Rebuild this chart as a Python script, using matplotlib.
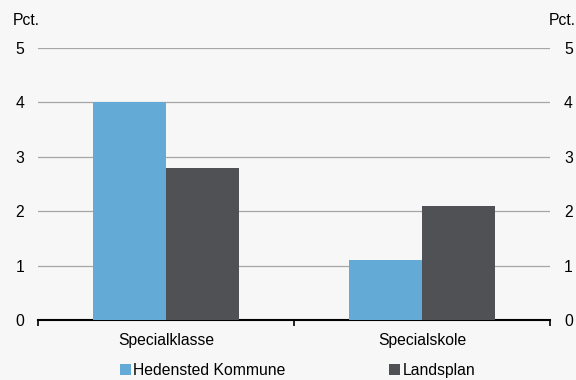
import matplotlib.pyplot as plt
import numpy as np

plt.rcParams['font.family'] = ['Liberation Sans', 'DejaVu Sans']

categories = ['Specialklasse', 'Specialskole']
series_names = ['Hedensted Kommune', 'Landsplan']
hedensted = [4.0, 1.1]
landsplan = [2.8, 2.1]
colors = ['#64aad6', '#505155']
bg = '#f7f7f7'
fs = 11.3

fig = plt.figure(figsize=(5.76, 3.8), dpi=100, facecolor=bg)
ax = fig.add_axes([38 / 576, 60 / 380, 512 / 576, 272 / 380], facecolor=bg)

x = np.arange(len(categories))
w = 0.286
ax.bar(x - w / 2, hedensted, w, color=colors[0], label=series_names[0], zorder=3)
ax.bar(x + w / 2, landsplan, w, color=colors[1], label=series_names[1], zorder=3)

ax.set_xlim(-0.5, 1.5)
ax.set_ylim(0, 5)
ax.set_yticks(range(6))
ax.grid(axis='y', color='#a6a6a6', linewidth=0.9, zorder=0)
for s in ['top', 'left', 'right']:
    ax.spines[s].set_visible(False)
ax.spines['bottom'].set_linewidth(1.5)
ax.spines['bottom'].set_color('black')

ax.set_xticks([-0.5, 0.5, 1.5], minor=True)
ax.set_xticks(x)
ax.set_xticklabels(categories, fontsize=fs)
ax.tick_params(axis='x', which='major', length=0, pad=9)
ax.tick_params(axis='x', which='minor', length=4, width=1.2, direction='out')
ax.tick_params(axis='y', length=0, labelsize=fs, pad=10, labelright=True, right=False)

ax.text(-25 / 512, 1.075, 'Pct.', transform=ax.transAxes, fontsize=fs, ha='left', va='bottom')
ax.text(1.0 + 26 / 512, 1.075, 'Pct.', transform=ax.transAxes, fontsize=fs, ha='right', va='bottom')

fig.legend(loc='lower center', bbox_to_anchor=(0.517, -0.032), ncol=2, frameon=False,
           fontsize=fs, handlelength=0.7, handleheight=0.7, handletextpad=0.15,
           columnspacing=6.6)

fig.savefig('out.png', dpi=100, facecolor=bg)
